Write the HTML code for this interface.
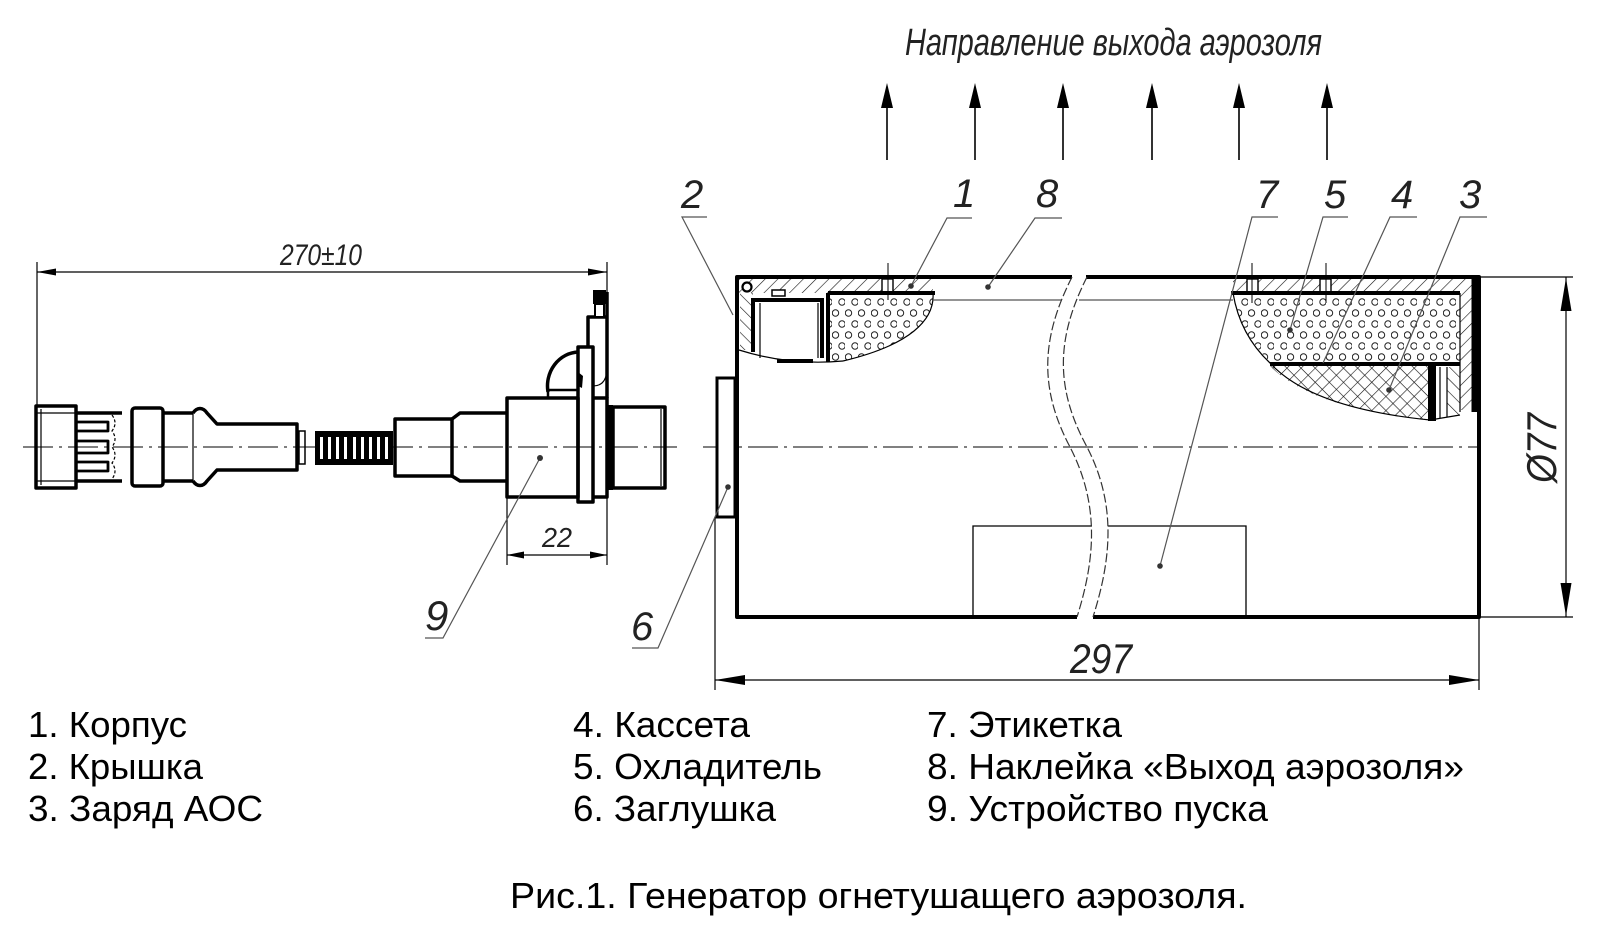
<!DOCTYPE html>
<html><head><meta charset="utf-8"><style>
html,body{margin:0;padding:0;background:#fff;}
svg{display:block;}
.lbl{font-family:"Liberation Sans","DejaVu Sans",sans-serif;font-style:italic;fill:#222;}
.leg{font-family:"Liberation Sans","DejaVu Sans",sans-serif;fill:#000;font-size:36px;}
</style></head><body>
<svg width="1600" height="926" viewBox="0 0 1600 926" xmlns="http://www.w3.org/2000/svg">
<defs>
<pattern id="hf" width="9" height="9" patternUnits="userSpaceOnUse" patternTransform="rotate(45)"><line x1="0" y1="0" x2="0" y2="9" stroke="#111" stroke-width="1.2"/></pattern>
<pattern id="hb" width="9" height="9" patternUnits="userSpaceOnUse" patternTransform="rotate(-45)"><line x1="0" y1="0" x2="0" y2="9" stroke="#111" stroke-width="1.2"/></pattern>
<pattern id="xh" width="10" height="10" patternUnits="userSpaceOnUse" patternTransform="rotate(45)"><path d="M0,0V10M0,0H10" stroke="#111" stroke-width="1.2" fill="none"/></pattern>
<pattern id="dots" width="13" height="22" patternUnits="userSpaceOnUse"><circle cx="3.5" cy="5" r="3.2" fill="none" stroke="#222" stroke-width="1"/><circle cx="10" cy="16" r="3.2" fill="none" stroke="#222" stroke-width="1"/></pattern>
</defs>

<!-- ===== Top direction text and arrows ===== -->
<text class="lbl" x="905" y="55" font-size="38" textLength="417" lengthAdjust="spacingAndGlyphs">Направление выхода аэрозоля</text>
<g stroke="#000" stroke-width="1.6">
<line x1="887" y1="105" x2="887" y2="160"/><line x1="975" y1="105" x2="975" y2="160"/><line x1="1063" y1="105" x2="1063" y2="160"/><line x1="1152" y1="105" x2="1152" y2="160"/><line x1="1239" y1="105" x2="1239" y2="160"/><line x1="1327" y1="105" x2="1327" y2="160"/>
</g>
<g fill="#000">
<polygon points="887,83 881,108 893,108"/><polygon points="975,83 969,108 981,108"/><polygon points="1063,83 1057,108 1069,108"/><polygon points="1152,83 1146,108 1158,108"/><polygon points="1239,83 1233,108 1245,108"/><polygon points="1327,83 1321,108 1333,108"/>
</g>

<!-- ===== Left assembly (start device) ===== -->
<line x1="23" y1="447" x2="677" y2="447" stroke="#000" stroke-width="1" stroke-dasharray="30 6 3 6"/>
<g stroke="#000" stroke-width="1.2">
<line x1="37" y1="272" x2="607" y2="272"/>
<line x1="37" y1="262" x2="37" y2="406"/>
<line x1="607" y1="262" x2="607" y2="565"/>
<line x1="507" y1="497" x2="507" y2="565"/>
<line x1="507" y1="555" x2="607" y2="555"/>
</g>
<g fill="#000">
<polygon points="37,272 56,268.5 56,275.5"/><polygon points="607,272 588,268.5 588,275.5"/>
<polygon points="507,555 524,551.5 524,558.5"/><polygon points="607,555 590,551.5 590,558.5"/>
</g>
<text class="lbl" x="280" y="265" font-size="30" textLength="82" lengthAdjust="spacingAndGlyphs">270±10</text>
<text class="lbl" x="542" y="547" font-size="28" textLength="30" lengthAdjust="spacingAndGlyphs">22</text>

<g fill="none" stroke="#000" stroke-width="3.5" stroke-linejoin="round">
<rect x="36" y="406" width="40" height="82"/>
<path d="M76,413 H122 M76,481 H122"/>
<rect x="132" y="408" width="31" height="78" rx="3"/>
<path d="M163,413 H193 M163,481 H193"/>
<path d="M193,413 C197,407 203,407 207,413 L217,424 H297 V470 H217 L207,481 C203,487 197,487 193,481"/>
<rect x="76" y="422" width="32" height="9" stroke-width="2.8"/>
<rect x="76" y="441" width="32" height="12" stroke-width="2.8"/>
<rect x="76" y="462" width="32" height="9" stroke-width="2.8"/>
<rect x="395" y="419" width="57" height="57"/>
<path d="M452,419 L460,413 H507 M452,476 L460,481 H507"/>
<rect x="507" y="398" width="71" height="99"/>
<rect x="578" y="347" width="15" height="155"/>
<path d="M593,398 H607 V497 H593"/>
<rect x="613" y="407" width="52" height="81"/>
<path d="M607,292 V398"/>
<path d="M588,347 V317 H607"/>
<path d="M548,392 A32,34 0 0 1 578,352"/>
<rect x="548" y="390" width="30" height="8" stroke-width="2.5"/>
</g>
<g stroke="#000" stroke-width="1.2" fill="none">
<line x1="41" y1="409" x2="41" y2="485"/>
<line x1="36" y1="413" x2="76" y2="413"/>
<line x1="36" y1="481" x2="76" y2="481"/>
<line x1="193" y1="413" x2="193" y2="481"/>
<line x1="661" y1="409" x2="661" y2="486"/>
<path d="M112,415 q6,8 0,16 q6,8 0,16 q6,8 0,16 q6,8 0,16" stroke-dasharray="3 2"/>
<rect x="299" y="431" width="6" height="33" stroke-width="1.5"/>
<path d="M593,386 Q606,386 607,370"/>
</g>
<rect x="593" y="290" width="13" height="14" fill="#000"/>
<rect x="595" y="304" width="9" height="13" fill="#fff" stroke="#000" stroke-width="2"/>
<rect x="607" y="405" width="6" height="85" fill="#000"/>
<path d="M578,372 L583,376 L582,388 L578,386 Z" fill="#000"/>
<rect x="315" y="431" width="78" height="34" fill="#000"/>
<g fill="#fff">
<rect x="320" y="437" width="3" height="22"/><rect x="328" y="437" width="3" height="22"/><rect x="336" y="437" width="3" height="22"/><rect x="344" y="437" width="3" height="22"/><rect x="353" y="437" width="3" height="22"/><rect x="361" y="437" width="3" height="22"/><rect x="369" y="437" width="3" height="22"/><rect x="377" y="437" width="3" height="22"/><rect x="385" y="437" width="3" height="22"/>
</g>
<g stroke="#555" stroke-width="1.2" fill="none"><path d="M540,458 L443,638 H425"/></g>
<circle cx="540" cy="458" r="3" fill="#333"/>
<text class="lbl" x="425" y="630" font-size="42">9</text>

<!-- ===== Main body ===== -->
<line x1="703" y1="447" x2="1478" y2="447" stroke="#000" stroke-width="1" stroke-dasharray="30 6 3 6"/>

<rect x="739" y="279" width="194" height="14" fill="url(#hf)"/>
<rect x="1233" y="279" width="227" height="14" fill="url(#hf)"/>
<rect x="740" y="293" width="13" height="57" fill="url(#hb)"/>
<rect x="1460" y="279" width="13" height="131" fill="url(#hf)"/>
<rect x="1447" y="367" width="13" height="48" fill="url(#hb)"/>
<path d="M830,295 L933,295 C935,320 910,345 843,361 L830,361 Z" fill="url(#dots)"/>
<path d="M1233,295 H1460 V362 H1270 Q1240,332 1233,295 Z" fill="url(#dots)"/>
<path d="M1270,366 H1428 V420 Q1311,408 1270,366 Z" fill="url(#xh)"/>

<g fill="#fff" stroke="#000" stroke-width="1.4">
<rect x="882" y="279" width="11" height="13"/>
<rect x="1247" y="279" width="11" height="13"/>
<rect x="1320" y="279" width="11" height="13"/>
</g>
<g stroke="#000" stroke-width="1">
<line x1="888" y1="263" x2="888" y2="300"/>
<line x1="1252" y1="263" x2="1252" y2="303"/>
<line x1="1326" y1="263" x2="1326" y2="303"/>
</g>

<g stroke="#000" stroke-width="4" fill="none">
<line x1="828" y1="293" x2="935" y2="293"/>
<line x1="1231" y1="293" x2="1460" y2="293"/>
<line x1="1270" y1="364" x2="1460" y2="364"/>
<path d="M753,352 V300 H822 V358"/>
<line x1="828" y1="293" x2="828" y2="362"/>
<line x1="1432" y1="364" x2="1432" y2="421" stroke-width="8"/>
<line x1="1475" y1="277" x2="1475" y2="412" stroke-width="7"/>
</g>
<g stroke="#000" stroke-width="1.2" fill="none">
<line x1="760" y1="303" x2="760" y2="358"/>
<line x1="818" y1="303" x2="818" y2="358"/>
<line x1="1460" y1="293" x2="1460" y2="412"/>
<line x1="1440" y1="367" x2="1440" y2="418"/>
<line x1="1447" y1="367" x2="1447" y2="417"/>
<path d="M739,350 Q790,366 843,361"/>
<path d="M933,293 C935,320 910,345 843,361"/>
<path d="M1233,293 Q1240,335 1270,363 Q1311,408 1430,420 L1460,415"/>
</g>
<rect x="777" y="359" width="36" height="4" fill="#000"/>
<circle cx="747" cy="287" r="4.5" fill="#fff" stroke="#000" stroke-width="2.2"/>
<rect x="772" y="290" width="13" height="6" fill="#fff" stroke="#000" stroke-width="1.5"/>

<g stroke="#555" stroke-width="1.3">
<line x1="933" y1="300" x2="1062" y2="300"/>
<line x1="1079" y1="300" x2="1233" y2="300"/>
</g>

<path d="M973,617 V526 H1092 M1108,526 H1246 V617" stroke="#000" stroke-width="1.3" fill="none"/>

<rect x="717" y="378" width="18" height="139" fill="#fff" stroke="#000" stroke-width="3"/>

<g stroke="#000" stroke-width="4" fill="none" stroke-linejoin="round">
<path d="M1072,277 H737 V617 H1077"/>
<path d="M1086,277 H1479 V617 H1093"/>
</g>

<g stroke="#333" stroke-width="1.2" fill="none" stroke-dasharray="9 3">
<path d="M1072,277 C1040,340 1040,390 1070,447 C1100,505 1095,560 1077,617"/>
<path d="M1087,277 C1055,340 1056,390 1087,447 C1117,505 1111,560 1093,617"/>
</g>

<g stroke="#000" stroke-width="1.2">
<line x1="715" y1="517" x2="715" y2="690"/>
<line x1="1479" y1="617" x2="1479" y2="690"/>
<line x1="715" y1="680" x2="1479" y2="680"/>
<line x1="1480" y1="277" x2="1573" y2="277"/>
<line x1="1480" y1="617" x2="1573" y2="617"/>
<line x1="1566" y1="277" x2="1566" y2="617"/>
</g>
<g fill="#000">
<polygon points="715,680 745,675 745,685"/><polygon points="1479,680 1449,675 1449,685"/>
<polygon points="1566,278 1560.5,311 1571.5,311"/><polygon points="1566,616 1560.5,583 1571.5,583"/>
</g>
<text class="lbl" x="1070" y="673" font-size="42" textLength="62" lengthAdjust="spacingAndGlyphs">297</text>
<text class="lbl" font-size="42" text-anchor="middle" textLength="70" lengthAdjust="spacingAndGlyphs" transform="translate(1556,448) rotate(-90)">Ø77</text>

<g stroke="#555" stroke-width="1.2" fill="none">
<path d="M707,217 H682 L733,315"/>
<path d="M972,218 H947 L911,286"/>
<path d="M1062,218 H1035 L988,287"/>
<path d="M1278,217 H1252 L1160,566"/>
<path d="M1348,217 H1323 L1290,330"/>
<path d="M1417,217 H1390 L1323,363"/>
<path d="M1487,217 H1460 L1389,390"/>
<path d="M728,487 L658,648 H632"/>
</g>
<g fill="#333">
<circle cx="911" cy="286" r="2.8"/><circle cx="988" cy="287" r="2.8"/><circle cx="1160" cy="566" r="2.8"/><circle cx="1290" cy="330" r="2.8"/><circle cx="1389" cy="390" r="2.8"/><circle cx="728" cy="487" r="2.8"/>
</g>
<g class="lbl" font-size="40">
<text x="681" y="208">2</text>
<text x="953" y="207">1</text>
<text x="1036" y="207">8</text>
<text x="1256" y="208">7</text>
<text x="1324" y="208">5</text>
<text x="1391" y="208">4</text>
<text x="1459" y="208">3</text>
<text x="631" y="640">6</text>
</g>

<text class="leg" x="28" y="737" textLength="159" lengthAdjust="spacingAndGlyphs">1. Корпус</text>
<text class="leg" x="28" y="779" textLength="175" lengthAdjust="spacingAndGlyphs">2. Крышка</text>
<text class="leg" x="28" y="821" textLength="235" lengthAdjust="spacingAndGlyphs">3. Заряд АОС</text>
<text class="leg" x="573" y="737" textLength="177" lengthAdjust="spacingAndGlyphs">4. Кассета</text>
<text class="leg" x="573" y="779" textLength="249" lengthAdjust="spacingAndGlyphs">5. Охладитель</text>
<text class="leg" x="573" y="821" textLength="203" lengthAdjust="spacingAndGlyphs">6. Заглушка</text>
<text class="leg" x="927" y="737" textLength="195" lengthAdjust="spacingAndGlyphs">7. Этикетка</text>
<text class="leg" x="927" y="779" textLength="537" lengthAdjust="spacingAndGlyphs">8. Наклейка «Выход аэрозоля»</text>
<text class="leg" x="927" y="821" textLength="341" lengthAdjust="spacingAndGlyphs">9. Устройство пуска</text>
<text class="leg" x="510" y="908" textLength="737" lengthAdjust="spacingAndGlyphs">Рис.1. Генератор огнетушащего аэрозоля.</text>
</svg>
</body></html>
